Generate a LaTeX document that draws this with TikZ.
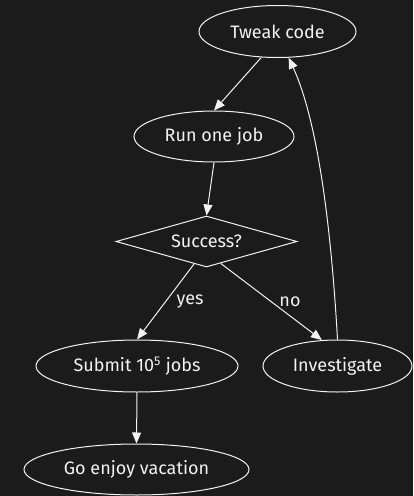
\documentclass[tikz,border=0pt]{standalone}
\usepackage{fontspec}
\setmainfont{Fira Sans}
\usetikzlibrary{shapes.geometric,arrows.meta}
\definecolor{bg}{HTML}{1B1B1B}
\definecolor{fg}{HTML}{F2F2F2}
\begin{document}
\begin{tikzpicture}[x=1pt,y=-1pt,
  every node/.style={text=fg,font=\fontsize{18}{21}\selectfont},
  elli/.style={draw=fg,line width=1pt,ellipse,inner sep=0pt},
  dia/.style={draw=fg,line width=1pt,diamond,aspect=3.55,inner sep=0pt,minimum width=181pt,minimum height=51pt},
  conn/.style={draw=fg,line width=1pt,-{Triangle[length=11pt,width=9pt]}},
  lbl/.style={inner sep=0pt}]
\fill[bg] (0,0) rectangle (413,496);
\useasboundingbox (0,0) rectangle (413,496);
\node[elli,minimum width=157pt,minimum height=52pt] (tweak) at (277.5,31.5) {Tweak code};
\node[elli,minimum width=160pt,minimum height=51pt] (run) at (214,136.5) {Run one job};
\node[dia] (succ) at (206.5,241.5) {Success?};
\node[elli,minimum width=202pt,minimum height=52pt] (sub) at (137,366) {Submit 10\textsuperscript{5} jobs};
\node[elli,minimum width=149pt,minimum height=52pt] (inv) at (337.5,366) {Investigate};
\node[elli,minimum width=225pt,minimum height=51pt] (vac) at (136.5,469.5) {Go enjoy vacation};
\draw[conn] (tweak.-122) -- (run.north);
\draw[conn] (run.south) -- (succ.north);
\draw[conn] (succ.-119) -- (sub.north);
\draw[conn] (succ.-57) -- (inv.121);
\draw[conn] (sub.south) -- (vac.north);
\draw[conn] (inv.north) .. controls (333,260) and (322,130) .. (tweak.-67);
\node[lbl] (yes) at (190,302) {yes};
\node[lbl] (no) at (290,302) {no};
\end{tikzpicture}
\end{document}
